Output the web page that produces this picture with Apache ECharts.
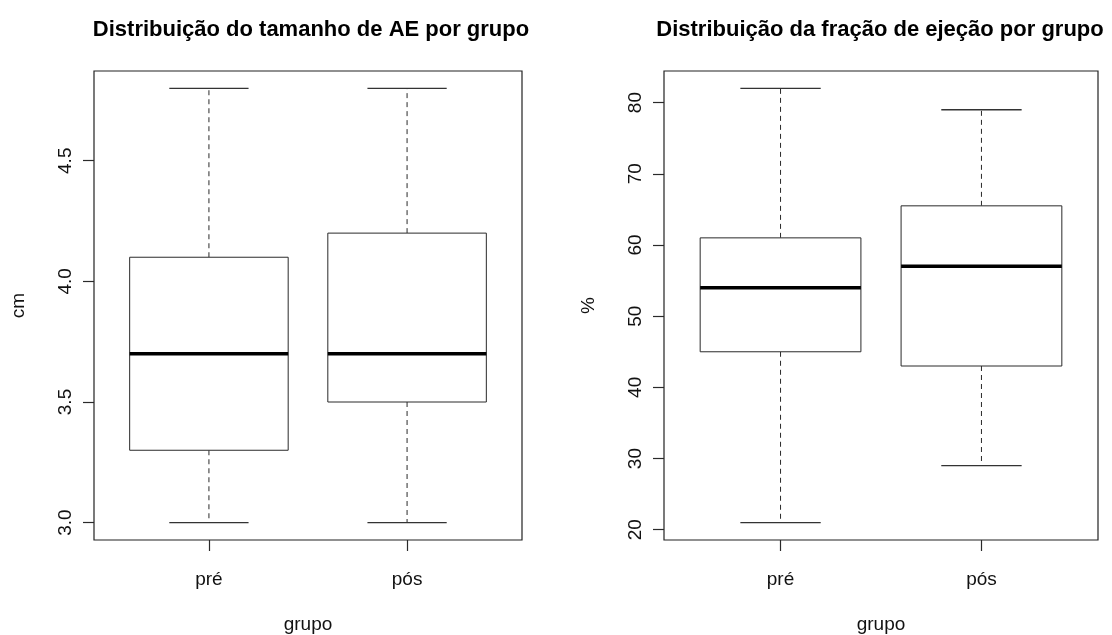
<!DOCTYPE html>
<html>
<head>
<meta charset="utf-8">
<script src="https://cdn.jsdelivr.net/npm/echarts@6/dist/echarts.min.js"></script>
<style>
html,body{margin:0;padding:0;background:#fff;}
#chart{width:1112px;height:635px;}
</style>
</head>
<body>
<div id="chart"></div>
<script>
// ---- data ----
const groups = ['pré', 'pós'];

// Left panel: tamanho de AE (cm)
const aeMin    = [3.0, 3.0];
const aeQ1     = [3.3, 3.5];
const aeMedian = [3.7, 3.7];
const aeQ3     = [4.1, 4.2];
const aeMax    = [4.8, 4.8];
const aeTicks  = [3.0, 3.5, 4.0, 4.5];

// Right panel: fração de ejeção (%)
const feMin    = [21, 29];
const feQ1     = [45, 43];
const feMedian = [54, 57];
const feQ3     = [61, 65.5];
const feMax    = [82, 79];
const feTicks  = [20, 30, 40, 50, 60, 70, 80];

const titleLeft  = 'Distribuição do tamanho de AE por grupo';
const titleRight = 'Distribuição da fração de ejeção por grupo';
const yNameLeft = 'cm';
const yNameRight = '%';
const xName = 'grupo';

// ---- helpers ----
function rows(mn, q1, md, q3, mx) {
  return groups.map((g, i) => [i, mn[i], q1[i], md[i], q3[i], mx[i]]);
}
// R-style 4% axis extension
function ext(mn, mx) {
  const lo = Math.min.apply(null, mn), hi = Math.max.apply(null, mx);
  const pad = (hi - lo) * 0.04;
  return [lo - pad, hi + pad];
}
const aeExt = ext(aeMin, aeMax);
const feExt = ext(feMin, feMax);

const FONT = 'Liberation Sans, Arial, Helvetica, sans-serif';
const TXT = '#111';
const LINE = '#2a2a2a';

function renderBox(params, api) {
  const x = api.value(0);
  const band = api.size([1, 0])[0];
  const hb = band * 0.8 / 2;
  const hc = band * 0.4 / 2;
  const pMin = api.coord([x, api.value(1)]);
  const pQ1 = api.coord([x, api.value(2)]);
  const pMd = api.coord([x, api.value(3)]);
  const pQ3 = api.coord([x, api.value(4)]);
  const pMax = api.coord([x, api.value(5)]);
  const cx = pMd[0];
  const dash = { stroke: LINE, lineWidth: 1, lineDash: [5, 4] };
  const cap = { stroke: '#333', lineWidth: 1.3 };
  return {
    type: 'group',
    children: [
      { type: 'line', shape: { x1: cx, y1: pQ3[1], x2: cx, y2: pMax[1] }, style: dash },
      { type: 'line', shape: { x1: cx, y1: pQ1[1], x2: cx, y2: pMin[1] }, style: dash },
      { type: 'line', shape: { x1: cx - hc, y1: pMax[1], x2: cx + hc, y2: pMax[1] }, style: cap },
      { type: 'line', shape: { x1: cx - hc, y1: pMin[1], x2: cx + hc, y2: pMin[1] }, style: cap },
      { type: 'rect', shape: { x: cx - hb, y: pQ3[1], width: 2 * hb, height: pQ1[1] - pQ3[1] }, style: { stroke: LINE, lineWidth: 1, fill: '#fff' } },
      { type: 'line', shape: { x1: cx - hb, y1: pMd[1], x2: cx + hb, y2: pMd[1] }, style: { stroke: '#000', lineWidth: 3.5 } }
    ]
  };
}

const TOP = 71, H = 469;
const frames = [
  { left: 94, width: 428 },
  { left: 664, width: 434 }
];
function inner(f) {
  const unit = f.width / 2.16;
  return { left: f.left + unit * 0.08, width: unit * 2 };
}

function yFrameAxis(gi, extent, ticks, name, fmt) {
  return {
    gridIndex: gi, type: 'value', min: extent[0], max: extent[1],
    axisLine: { show: false },
    splitLine: { show: false },
    axisTick: { show: true, length: 11, customValues: ticks, lineStyle: { color: LINE, width: 1.2 } },
    axisLabel: { customValues: ticks, rotate: 90, margin: 19, fontSize: 19, color: TXT, fontFamily: FONT, formatter: fmt },
    name: name, nameLocation: 'middle', nameGap: 66, nameRotate: 90,
    nameTextStyle: { fontSize: 19, color: TXT, fontFamily: FONT }
  };
}
function yHidden(gi, extent) {
  return { gridIndex: gi, type: 'value', min: extent[0], max: extent[1], show: false, splitLine: { show: false } };
}
function xCat(gi) {
  return {
    gridIndex: gi, type: 'category', data: groups, boundaryGap: true,
    axisLine: { show: false },
    axisTick: { show: true, alignWithLabel: true, length: 11, lineStyle: { color: LINE, width: 1.2 } },
    axisLabel: { margin: 30, fontSize: 19, color: TXT, fontFamily: FONT },
    splitLine: { show: false },
    name: xName, nameLocation: 'middle', nameGap: 75,
    nameTextStyle: { fontSize: 19, color: TXT, fontFamily: FONT }
  };
}
function xHidden(gi) {
  return { gridIndex: gi, type: 'value', min: 0, max: 1, show: false, splitLine: { show: false } };
}

const iL = inner(frames[0]), iR = inner(frames[1]);

function gridBase(extra) {
  return Object.assign({ top: TOP, height: H, containLabel: false, outerBoundsMode: 'none' }, extra);
}

const option = {
  backgroundColor: '#fff',
  animation: false,
  title: [
    { text: titleLeft, left: 306, top: 14, textAlign: 'center',
      textStyle: { fontSize: 22, fontWeight: 'bold', color: '#000', fontFamily: FONT } },
    { text: titleRight, left: 875, top: 14, textAlign: 'center',
      textStyle: { fontSize: 22, fontWeight: 'bold', color: '#000', fontFamily: FONT } }
  ],
  grid: [
    gridBase({ left: frames[0].left, width: frames[0].width, show: true, borderColor: '#222', borderWidth: 1.2, backgroundColor: 'transparent' }),
    gridBase({ left: iL.left, width: iL.width }),
    gridBase({ left: frames[1].left, width: frames[1].width, show: true, borderColor: '#222', borderWidth: 1.2, backgroundColor: 'transparent' }),
    gridBase({ left: iR.left, width: iR.width })
  ],
  xAxis: [xHidden(0), xCat(1), xHidden(2), xCat(3)],
  yAxis: [
    yFrameAxis(0, aeExt, aeTicks, yNameLeft, v => v.toFixed(1)),
    yHidden(1, aeExt),
    yFrameAxis(2, feExt, feTicks, yNameRight, v => String(Math.round(v))),
    yHidden(3, feExt)
  ],
  series: [
    { type: 'custom', xAxisIndex: 1, yAxisIndex: 1, renderItem: renderBox,
      encode: { x: 0, y: [1, 2, 3, 4, 5] }, data: rows(aeMin, aeQ1, aeMedian, aeQ3, aeMax), clip: false },
    { type: 'custom', xAxisIndex: 3, yAxisIndex: 3, renderItem: renderBox,
      encode: { x: 0, y: [1, 2, 3, 4, 5] }, data: rows(feMin, feQ1, feMedian, feQ3, feMax), clip: false }
  ]
};

const chart = echarts.init(document.getElementById('chart'), null, { renderer: 'canvas' });
chart.setOption(option);
</script>
</body>
</html>
